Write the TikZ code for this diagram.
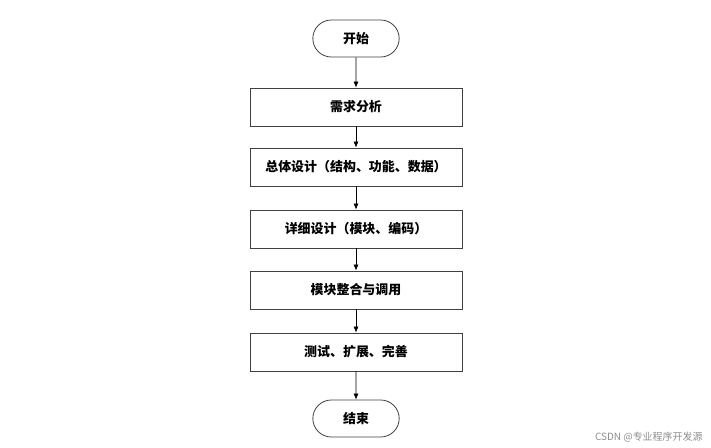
\documentclass[tikz,border=0pt]{standalone}
\usepackage{fontspec}
\newfontfamily\cjk{Noto Sans CJK SC}
\usetikzlibrary{arrows.meta}
\usetikzlibrary{shapes.misc}

\tikzset{
  proc/.style={draw=black!75, line width=0.8pt, minimum width=212bp, minimum height=38bp,
    text width=204bp, align=center, font=\cjk\bfseries\fontsize{13}{16}\selectfont, inner sep=2pt},
  term/.style={draw=black!75, line width=0.8pt, rounded rectangle, minimum width=93bp,
    minimum height=37bp, font=\cjk\bfseries\fontsize{13}{16}\selectfont},
  flow/.style={-{Latex[length=6pt,width=5pt]}, line width=0.6pt}
}

\begin{document}
\begin{tikzpicture}[x=1bp,y=-1bp]
  \useasboundingbox (0,0) rectangle (711,448);

  \node [term] (start) at (356,38.5) {开始};
  \node [proc] (req) at (356,107) {需求分析};
  \node [proc] (arch) at (356,167) {总体设计（结构、功能、数据）};
  \node [proc] (detail) at (356,229) {详细设计（模块、编码）};
  \node [proc] (integ) at (356,290) {模块整合与调用};
  \node [proc] (test) at (356,352) {测试、扩展、完善};
  \node [term] (stop) at (356,418.5) {结束};

  \draw [flow] (start) -- (req);
  \draw [flow] (req) -- (arch);
  \draw [flow] (arch) -- (detail);
  \draw [flow] (detail) -- (integ);
  \draw [flow] (integ) -- (test);
  \draw [flow] (test) -- (stop);

  \node [anchor=east, text=black!45, font=\cjk\fontsize{10}{12}\selectfont] (mark) at (706,437) {CSDN @专业程序开发源};
\end{tikzpicture}
\end{document}
